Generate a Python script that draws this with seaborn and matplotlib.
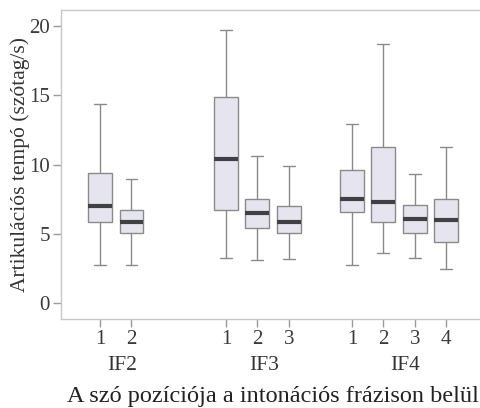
import numpy as np
import pandas as pd
import matplotlib
matplotlib.use("Agg")
import matplotlib.pyplot as plt
import matplotlib.transforms as mtransforms
import seaborn as sns

# Five-number summaries (szótag/s)
groups = ["IF2", "IF2", "IF3", "IF3", "IF3", "IF4", "IF4", "IF4", "IF4"]
word_pos = ["1", "2", "1", "2", "3", "1", "2", "3", "4"]
lows = [2.8, 2.8, 3.3, 3.1, 3.2, 2.8, 3.6, 3.3, 2.5]
q1s = [5.9, 5.1, 6.7, 5.4, 5.1, 6.6, 5.9, 5.1, 4.4]
medians = [7.0, 5.9, 10.4, 6.5, 5.9, 7.5, 7.3, 6.1, 6.0]
q3s = [9.4, 6.7, 14.9, 7.5, 7.0, 9.6, 11.3, 7.1, 7.5]
highs = [14.4, 9.0, 19.7, 10.6, 9.9, 12.9, 18.7, 9.3, 11.3]

# x slot of each box (gaps between the IF groups)
slots = [0, 1, 4, 5, 6, 8, 9, 10, 11]

rows = []
for s, lo, a, m, b, hi in zip(slots, lows, q1s, medians, q3s, highs):
    for v in (lo, a, m, b, hi):
        rows.append({"slot": s, "tempo": v})
df = pd.DataFrame(rows)

sns.set_theme(style="white")
plt.rcParams["font.family"] = ["Liberation Serif", "DejaVu Serif"]

fig = plt.figure(figsize=(4.8, 4.08), dpi=100)
ax = fig.add_axes([0.127, 0.218, 0.877, 0.7575])

edge = "#8a8a8a"
sns.boxplot(data=df, x="slot", y="tempo", native_scale=True, width=0.76,
            whis=(0, 100), color="#e6e5ef", linecolor=edge, linewidth=1.0,
            fliersize=0, ax=ax,
            boxprops=dict(facecolor="#e6e5ef", edgecolor=edge),
            medianprops=dict(color="#404144", linewidth=3.0),
            whiskerprops=dict(color=edge),
            capprops=dict(color=edge))

ax.set_xlim(-1.24, 12.13)
ax.set_ylim(-1.13, 21.15)
ax.set_yticks([0, 5, 10, 15, 20])
ax.set_xticks(slots)
ax.set_xticklabels(word_pos)

for sp in ax.spines.values():
    sp.set_color("#c8c8c8")
    sp.set_linewidth(1.0)

ax.tick_params(axis="both", which="both", direction="out", length=6,
               width=1.0, color="#9a9a9a", labelcolor="#3a3a3a",
               labelsize=15, bottom=True, left=True, pad=2)

ax.set_xlabel("")
ax.set_ylabel("Artikulációs tempó (szótag/s)", fontsize=15.5, color="#333333",
              labelpad=-1)

trans = mtransforms.blended_transform_factory(ax.transData, fig.transFigure)
for name in ["IF2", "IF3", "IF4"]:
    xs = [s for s, g in zip(slots, groups) if g == name]
    ax.text(np.mean(xs) + 0.2, 0.103, name, transform=trans, ha="center",
            va="center", fontsize=15.5, color="#333333")

fig.text(0.568, 0.027, "A szó pozíciója a intonációs frázison belül",
         ha="center", va="center", fontsize=17.5, color="#222222")

fig.savefig("out.png", dpi=100, facecolor="white")
